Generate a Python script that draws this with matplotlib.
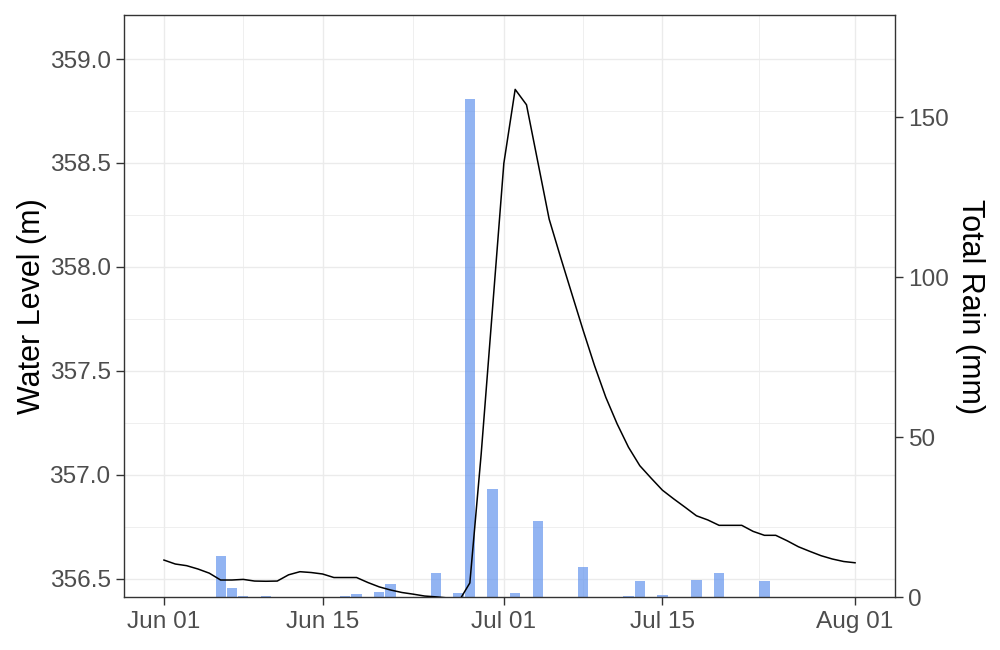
import matplotlib
matplotlib.use("Agg")
import matplotlib.pyplot as plt
import matplotlib.dates as mdates
from matplotlib.ticker import MultipleLocator, FixedLocator, FormatStrFormatter
import numpy as np
import pandas as pd

# Daily water level, Jun 01 - Aug 01
dates = pd.date_range("2021-06-01", "2021-08-01", freq="D")
water_level = [
    356.590, 356.571, 356.563, 356.547, 356.527, 356.494, 356.494, 356.497,
    356.489, 356.488, 356.489, 356.519, 356.534, 356.530, 356.523, 356.506,
    356.506, 356.506, 356.482, 356.461, 356.446, 356.434, 356.426, 356.417,
    356.413, 356.408, 356.389, 356.480, 357.100, 357.799, 358.498, 358.854,
    358.780, 358.505, 358.230, 358.048, 357.871, 357.695, 357.526, 357.373,
    357.245, 357.133, 357.044, 356.984, 356.926, 356.884, 356.844, 356.803,
    356.783, 356.757, 356.757, 356.757, 356.728, 356.709, 356.709, 356.683,
    356.654, 356.632, 356.611, 356.595, 356.583, 356.577,
]

# Daily rain totals (days with rain only)
rain_dates = pd.to_datetime([
    "2021-06-06", "2021-06-07", "2021-06-08", "2021-06-10", "2021-06-17",
    "2021-06-18", "2021-06-20", "2021-06-21", "2021-06-25", "2021-06-27",
    "2021-06-28", "2021-06-30", "2021-07-02", "2021-07-04", "2021-07-08",
    "2021-07-12", "2021-07-13", "2021-07-15", "2021-07-18", "2021-07-20",
    "2021-07-24",
])
rain_mm = [
    13.1, 3.1, 0.6, 0.6, 0.6,
    1.0, 1.6, 4.1, 7.8, 1.3,
    155.8, 33.8, 1.3, 23.8, 9.4,
    0.6, 5.3, 0.9, 5.6, 7.8,
    5.0,
]

date_ticks = pd.to_datetime(["2021-06-01", "2021-06-15", "2021-07-01",
                             "2021-07-15", "2021-08-01"])

plt.rcParams["font.family"] = ["Liberation Sans", "DejaVu Sans"]

grid_col = "#EBEBEB"
dark = "#333333"
label_col = "#4D4D4D"

fig = plt.figure(figsize=(10, 6.5), dpi=100)
ax = fig.add_axes([0.1243, 0.0808, 0.7704, 0.8962])
axr = ax.twinx()

# limits
ax.set_xlim(dates[0] - pd.Timedelta(days=3.5), dates[-1] + pd.Timedelta(days=3.5))
ax.set_ylim(356.41, 359.212)
axr.set_ylim(0, 182)

# rain bars on the right axis
axr.bar(rain_dates, rain_mm, width=0.9, color="cornflowerblue", alpha=0.7,
        linewidth=0, zorder=1)

# water level line, drawn above the bars in left-axis units
axr.plot(dates, water_level, color="black", linewidth=1.1,
         transform=ax.transData, zorder=3)
axr.set_ylim(0, 182)

# x ticks and grid
major = mdates.date2num(date_ticks)
minor = (major[:-1] + major[1:]) / 2
ax.xaxis.set_major_locator(FixedLocator(major))
ax.xaxis.set_minor_locator(FixedLocator(minor))
ax.xaxis.set_major_formatter(mdates.DateFormatter("%b %d"))

ax.yaxis.set_major_locator(MultipleLocator(0.5))
ax.yaxis.set_minor_locator(MultipleLocator(0.25))
ax.yaxis.set_major_formatter(FormatStrFormatter("%.1f"))
axr.yaxis.set_major_locator(MultipleLocator(50))

ax.grid(True, which="major", color=grid_col, linewidth=1.0)
ax.grid(True, which="minor", color=grid_col, linewidth=0.55)
ax.set_axisbelow(True)

for a in (ax, axr):
    a.tick_params(which="major", length=5.5, width=1.0, color=dark,
                  labelcolor=label_col, labelsize=17.6, pad=4.4)
    a.tick_params(which="minor", length=0)

for s in ax.spines.values():
    s.set_visible(False)
for s in axr.spines.values():
    s.set_color(dark)
    s.set_linewidth(1.0)

fig.text(0.032, 0.529, "Water Level (m)", rotation=90, ha="center",
         va="center", fontsize=22, color="black")
fig.text(0.970, 0.529, "Total Rain (mm)", rotation=270, ha="center",
         va="center", fontsize=22, color="black")

fig.savefig("out.png", dpi=100)
